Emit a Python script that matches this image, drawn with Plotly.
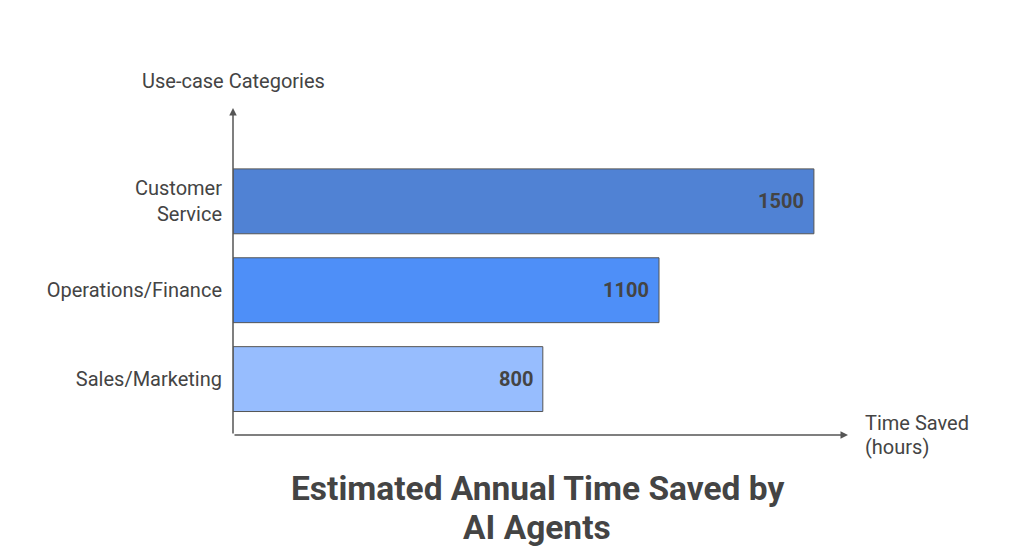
import plotly.graph_objects as go

categories = ["Sales/Marketing", "Operations/Finance", "Customer<br>Service"]
values = [800, 1100, 1500]
colors = ["#97BDFE", "#4E8FF8", "#5082D4"]
value_labels = ["800", "1100", "1500"]

x_title_lines = ["Time Saved", "(hours)"]
y_title = "Use-case Categories"
title_lines = ["Estimated Annual Time Saved by", "AI Agents"]

FONT = "Roboto"
TXT = "#444444"
AX = "#555555"

W, H = 1024, 559
L, R, T, B = 225, 184, 100, 132
PW, PH = W - L - R, H - T - B

fig = go.Figure()
fig.add_trace(go.Bar(
    y=categories, x=values, orientation="h",
    marker=dict(color=colors, line=dict(color="#555555", width=1)),
    width=0.73, hoverinfo="skip",
))

annotations = []
for c, v, t in zip(categories, values, value_labels):
    annotations.append(dict(x=v, y=c, xref="x", yref="y", text="<b>" + t + "</b>",
                            showarrow=False, xanchor="right", xshift=-8,
                            font=dict(family=FONT, size=20, color=TXT)))

# axis arrows
annotations.append(dict(x=0, y=1, xref="x domain", yref="y domain", ax=0, ay=0,
                        axref="x domain", ayref="y domain", showarrow=True, arrowhead=2,
                        arrowsize=1, arrowwidth=1.5, arrowcolor=AX, text=""))
annotations.append(dict(x=1, y=0, xref="x domain", yref="y domain", ax=0, ay=0,
                        axref="x domain", ayref="y domain", showarrow=True, arrowhead=2,
                        arrowsize=1, arrowwidth=1.5, arrowcolor=AX, text=""))

annotations.append(dict(x=0, y=1, xref="paper", yref="paper", text=y_title,
                        showarrow=False, xanchor="center", yanchor="middle", yshift=27,
                        font=dict(family=FONT, size=20, color=TXT)))
for i, line in enumerate(x_title_lines):
    annotations.append(dict(x=1, y=0, xref="paper", yref="paper", text=line,
                            showarrow=False, xanchor="left", yanchor="middle",
                            xshift=15, yshift=12 - 24 * i,
                            font=dict(family=FONT, size=20, color=TXT)))
for i, line in enumerate(title_lines):
    annotations.append(dict(x=(529 - L) / PW, y=-(481 + 38 * i - (H - B)) / PH,
                            xref="paper", yref="paper", xanchor="center", yanchor="middle",
                            text="<b>" + line + "</b>", showarrow=False,
                            font=dict(family=FONT, size=33.5, color=TXT)))

fig.update_layout(
    width=W, height=H,
    margin=dict(l=L, r=R, t=T, b=B),
    paper_bgcolor="white", plot_bgcolor="white",
    showlegend=False,
    xaxis=dict(range=[0, 1588], showgrid=False, zeroline=False, showticklabels=False,
               showline=False, ticks=""),
    yaxis=dict(range=[-0.629, 3.05], showgrid=False, zeroline=False, showline=False,
               ticks="", ticklabelstandoff=10,
               tickfont=dict(family=FONT, size=20, color=TXT)),
    annotations=annotations,
)
fig.write_html("out.html")
